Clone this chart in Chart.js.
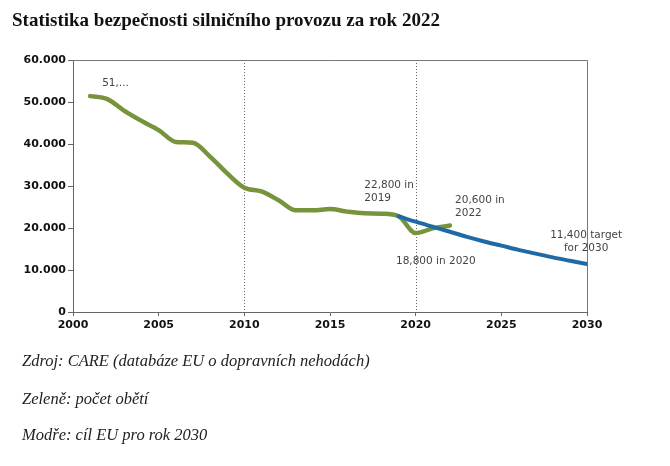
<!DOCTYPE html>
<html>
<head>
<meta charset="utf-8">
<script src="https://cdn.jsdelivr.net/npm/chart.js@4"></script>
<style>
body { margin: 0; width: 670px; height: 466px; background: #fff; position: relative; overflow: hidden; }
#wrap { position: absolute; left: 0; top: 0; width: 670px; height: 466px; }
#title { position: absolute; left: 12px; top: 9px; font: bold 19px "Liberation Serif", serif; color: #111; white-space: nowrap; }
.note { position: absolute; left: 22px; font: italic 16.5px "Liberation Serif", serif; color: #222; white-space: nowrap; }
</style>
</head>
<body>
<div id="wrap"><canvas id="chart"></canvas></div>
<div id="title">Statistika bezpečnosti silničního provozu za rok 2022</div>
<div class="note" style="top:351px">Zdroj: CARE (databáze EU o dopravních nehodách)</div>
<div class="note" style="top:389px">Zeleně: počet obětí</div>
<div class="note" style="top:425px">Modře: cíl EU pro rok 2030</div>
<script>
// pocet obeti (zelena)
const years = [2001, 2002, 2003, 2004, 2005, 2006, 2007, 2008, 2009, 2010, 2011,
               2012, 2013, 2014, 2015, 2016, 2017, 2018, 2019, 2020, 2021, 2022];
const deaths = [51400, 50700, 47900, 45500, 43300, 40500, 40300, 37000, 33000, 29600, 28700,
                26600, 24200, 24200, 24500, 23900, 23500, 23400, 22800, 18800, 19900, 20600];

// cil EU (modra)
const targetYears = [2019, 2020, 2021, 2022, 2023, 2024, 2025, 2026, 2027, 2028, 2029, 2030];
const target = [22800, 21500, 20300, 19100, 17900, 16800, 15800, 14800, 13900, 13000, 12200, 11400];

const xTicks = [2000, 2005, 2010, 2015, 2020, 2025, 2030];
const yTicks = [0, 10000, 20000, 30000, 40000, 50000, 60000];
const dottedYears = [2010, 2020];

const notes = [
    { lines: ['51,...'], year: 2001.7, value: 54500, align: 'left' },
    { lines: ['22,800 in', '2019'], year: 2017.0, value: 30100, align: 'left' },
    { lines: ['20,600 in', '2022'], year: 2022.3, value: 26700, align: 'left' },
    { lines: ['18,800 in 2020'], year: 2018.85, value: 12150, align: 'left' },
    { lines: ['11,400 target', 'for 2030'], year: 2029.95, value: 18300, align: 'center' }
];

const fmt = v => String(v).replace(/\B(?=(\d{3})+(?!\d))/g, '.');

const framePlugin = {
    id: 'frame',
    beforeDatasetsDraw(chart) {
        const { ctx, chartArea: a, scales: { x, y } } = chart;
        ctx.save();
        ctx.strokeStyle = '#666';
        ctx.lineWidth = 1;
        ctx.setLineDash([1, 2]);
        dottedYears.forEach(yr => {
            const px = Math.round(x.getPixelForValue(yr)) + 0.5;
            ctx.beginPath();
            ctx.moveTo(px, a.top);
            ctx.lineTo(px, a.bottom);
            ctx.stroke();
        });
        ctx.setLineDash([]);
        ctx.strokeStyle = '#777';
        const top = Math.round(y.getPixelForValue(60000)) + 0.5;
        const right = Math.round(x.getPixelForValue(2030)) + 0.5;
        ctx.beginPath();
        ctx.moveTo(a.left, top);
        ctx.lineTo(right, top);
        ctx.lineTo(right, a.bottom);
        ctx.stroke();
        ctx.restore();
    },
    afterDatasetsDraw(chart) {
        const { ctx, scales: { x, y } } = chart;
        ctx.save();
        ctx.font = '10.5px "DejaVu Sans", Verdana, sans-serif';
        ctx.fillStyle = '#444';
        ctx.textBaseline = 'middle';
        notes.forEach(n => {
            ctx.textAlign = n.align;
            const px = x.getPixelForValue(n.year);
            const py = y.getPixelForValue(n.value);
            n.lines.forEach((t, i) => ctx.fillText(t, px, py + i * 13));
        });
        ctx.restore();
    }
};

new Chart(document.getElementById('chart'), {
    type: 'line',
    data: {
        datasets: [
            {
                label: 'Cíl EU',
                data: targetYears.map((yr, i) => ({ x: yr, y: target[i] })),
                borderColor: '#1f6aa5',
                borderWidth: 4,
                pointRadius: 0,
                cubicInterpolationMode: 'monotone',
                borderCapStyle: 'round'
            },
            {
                label: 'Počet obětí',
                data: years.map((yr, i) => ({ x: yr, y: deaths[i] })),
                borderColor: '#77933c',
                borderWidth: 4.5,
                pointRadius: 0,
                cubicInterpolationMode: 'monotone',
                borderCapStyle: 'round',
                borderJoinStyle: 'round'
            }
        ]
    },
    options: {
        responsive: true,
        maintainAspectRatio: false,
        animation: false,
        layout: { padding: { left: 0, top: 60, right: 83, bottom: 124 } },
        plugins: { legend: { display: false }, tooltip: { enabled: false } },
        scales: {
            x: {
                type: 'linear',
                min: 2000,
                max: 2030,
                afterBuildTicks: s => { s.ticks = xTicks.map(v => ({ value: v })); },
                afterFit: s => { s.height = 30; },
                ticks: {
                    callback: v => String(v),
                    font: { family: '"DejaVu Sans", Verdana, sans-serif', size: 11, weight: 'bold' },
                    color: '#111',
                    padding: 3,
                    maxRotation: 0
                },
                grid: { drawOnChartArea: false, tickLength: 4, color: '#666' },
                border: { color: '#666' }
            },
            y: {
                min: 0,
                max: 60000,
                afterBuildTicks: s => { s.ticks = yTicks.map(v => ({ value: v })); },
                afterFit: s => { s.width = 73; },
                ticks: {
                    callback: v => fmt(v),
                    font: { family: '"DejaVu Sans", Verdana, sans-serif', size: 11, weight: 'bold' },
                    color: '#111',
                    padding: 2
                },
                grid: { drawOnChartArea: false, tickLength: 5, color: '#666' },
                border: { color: '#666' }
            }
        }
    },
    plugins: [framePlugin]
});
</script>
</body>
</html>
